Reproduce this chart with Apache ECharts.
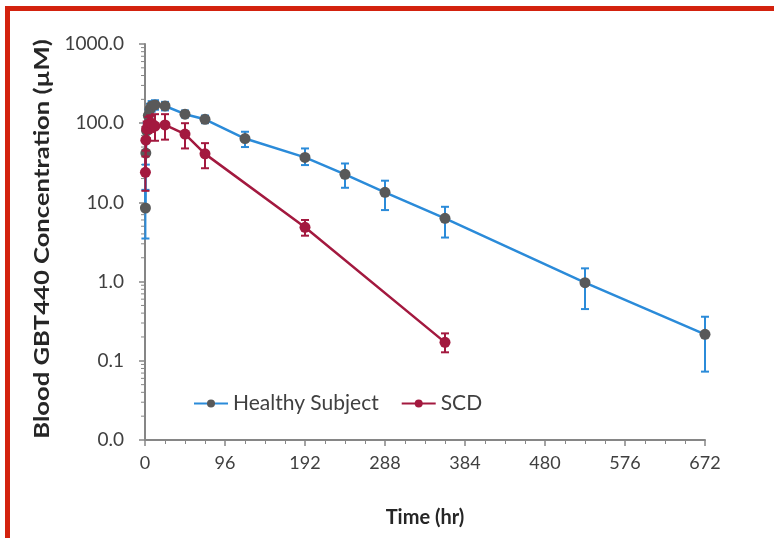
<!DOCTYPE html>
<html>
<head>
<meta charset="utf-8">
<script src="https://cdn.jsdelivr.net/npm/echarts@6/dist/echarts.min.js"></script>
<style>
html, body { margin: 0; padding: 0; background: #fff; }
#chart { width: 774px; height: 538px; }
</style>
</head>
<body>
<div id="chart"></div>
<script>
// Healthy subjects: time (hr), mean and error bar ends (uM)
var hsTime = [0.5, 1, 2, 4, 6, 8, 12, 24, 48, 72, 120, 192, 240, 288, 360, 528, 672];
var hsMean = [8.5, 42, 80, 125, 150, 165, 170, 165, 130, 112, 64, 37, 22.6, 13.4, 6.3, 0.97, 0.216];
var hsLow = [3.5, 30, 62, 102, 126, 140, 148, 145, 118, 100, 50, 29.6, 15.3, 8.0, 3.6, 0.45, 0.073];
var hsHigh = [14.4, 56, 100, 150, 176, 190, 195, 186, 145, 125, 78, 48, 31, 18.8, 8.8, 1.47, 0.36];

// SCD patients
var scdTime = [0.5, 1, 2, 4, 6, 8, 12, 24, 48, 72, 192, 360];
var scdMean = [24, 61, 85, 97, 100, 100, 92, 95, 73, 41, 4.85, 0.171];
var scdLow = [14, 45, 65, 75, 78, 78, 60, 62, 48, 27, 3.8, 0.128];
var scdHigh = [38, 80, 105, 120, 125, 125, 130, 130, 100, 56, 6.0, 0.222];

var xTicks = [0, 96, 192, 288, 384, 480, 576, 672];
var yTicks = [0.01, 0.1, 1, 10, 100, 1000];

var blue = '#2b8bd9', grey = '#595959', crimson = '#a3193f';
var font = 'Lato';

function pairs(xs, ys) {
	var out = [];
	for (var i = 0; i < xs.length; i++) out.push([xs[i], ys[i]]);
	return out;
}
function bars(xs, lo, hi) {
	var out = [];
	for (var i = 0; i < xs.length; i++) out.push([xs[i], lo[i], hi[i]]);
	return out;
}

// log minor ticks (2..9 per decade)
var minorVals = [];
for (var k = 0; k < yTicks.length - 1; k++) {
	for (var m = 2; m <= 9; m++) minorVals.push([0, m * yTicks[k]]);
}

function errorBar(color) {
	return function (params, api) {
		var x = api.value(0);
		var top = api.coord([x, api.value(2)]);
		var bot = api.coord([x, api.value(1)]);
		var w = 4;
		var st = { stroke: color, lineWidth: 2 };
		return {
			type: 'group',
			children: [
				{ type: 'line', shape: { x1: top[0], y1: top[1], x2: bot[0], y2: bot[1] }, style: st },
				{ type: 'line', shape: { x1: top[0] - w, y1: top[1], x2: top[0] + w, y2: top[1] }, style: st },
				{ type: 'line', shape: { x1: bot[0] - w, y1: bot[1], x2: bot[0] + w, y2: bot[1] }, style: st }
			]
		};
	};
}

var myChart = echarts.init(document.getElementById('chart'));
var option = {
	backgroundColor: '#fff',
	animation: false,
	textStyle: { fontFamily: font },
	graphic: [
		{ type: 'rect', shape: { x: 5, y: 6, width: 769, height: 5 }, style: { fill: '#d3220e' } },
		{ type: 'rect', shape: { x: 5, y: 6, width: 5, height: 532 }, style: { fill: '#d3220e' } },
		// y axis title, stretched along its length like the source picture
		{
			type: 'text',
			x: 42,
			y: 239,
			rotation: Math.PI / 2,
			scaleX: 1.22,
			style: {
				text: 'Blood GBT440 Concentration (µM)',
				font: 'bold 21px Lato',
				fill: '#262626',
				align: 'center',
				verticalAlign: 'middle'
			}
		}
	],
	grid: { left: 145, right: 69, top: 44, bottom: 98 },
	legend: {
		data: ['Healthy Subject', 'SCD'],
		left: 188,
		top: 388,
		itemWidth: 34,
		itemHeight: 10,
		itemGap: 22,
		textStyle: { fontFamily: font, fontSize: 21, color: '#404040' }
	},
	xAxis: {
		type: 'value',
		min: 0,
		max: 672,
		interval: 96,
		name: 'Time (hr)',
		nameLocation: 'middle',
		nameGap: 68,
		nameTextStyle: { fontFamily: font, fontSize: 20, fontWeight: 'bold', color: '#262626' },
		axisLine: { lineStyle: { color: '#868686', width: 2 } },
		axisTick: { length: 6, lineStyle: { color: '#868686', width: 1.5 } },
		minorTick: { show: true, splitNumber: 4, length: 4, lineStyle: { color: '#868686' } },
		splitLine: { show: false },
		axisLabel: { fontFamily: font, fontSize: 18, color: '#404040', margin: 14 }
	},
	yAxis: {
		type: 'log',
		logBase: 10,
		min: 0.01,
		max: 1000,
		axisLine: { show: true, lineStyle: { color: '#868686', width: 2 } },
		axisTick: { show: true, length: 6, lineStyle: { color: '#868686', width: 1.5 } },
		splitLine: { show: false },
		axisLabel: {
			fontFamily: font, fontSize: 19, color: '#404040', margin: 21,
			formatter: function (v) { return v.toFixed(1); }
		}
	},
	series: [
		{
			name: 'minor',
			type: 'custom',
			silent: true,
			data: minorVals,
			encode: { x: 0, y: 1 },
			renderItem: function (params, api) {
				var p = api.coord([0, api.value(1)]);
				return { type: 'line', shape: { x1: p[0] - 4, y1: p[1], x2: p[0], y2: p[1] }, style: { stroke: '#868686', lineWidth: 1 } };
			},
			z: 1
		},
		{
			name: 'Healthy Subject',
			type: 'line',
			data: pairs(hsTime, hsMean),
			symbol: 'circle',
			symbolSize: 11,
			itemStyle: { color: grey },
			lineStyle: { color: blue, width: 2.5 },
			z: 3
		},
		{
			name: 'hsErr',
			type: 'custom',
			data: bars(hsTime, hsLow, hsHigh),
			encode: { x: 0, y: [1, 2] },
			renderItem: errorBar(blue),
			z: 2
		},
		{
			name: 'SCD',
			type: 'line',
			data: pairs(scdTime, scdMean),
			symbol: 'circle',
			symbolSize: 11,
			itemStyle: { color: crimson },
			lineStyle: { color: crimson, width: 2.5 },
			z: 5
		},
		{
			name: 'scdErr',
			type: 'custom',
			data: bars(scdTime, scdLow, scdHigh),
			encode: { x: 0, y: [1, 2] },
			renderItem: errorBar(crimson),
			z: 4
		}
	]
};
myChart.setOption(option);
</script>
</body>
</html>
